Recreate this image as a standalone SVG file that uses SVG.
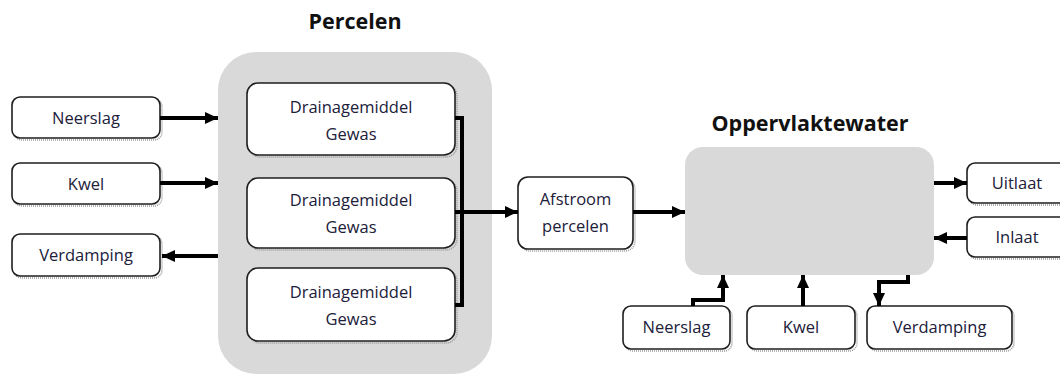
<svg xmlns="http://www.w3.org/2000/svg" width="1060" height="374" viewBox="0 0 1060 374">
<defs>
<marker id="ah" markerUnits="userSpaceOnUse" markerWidth="14" markerHeight="14" refX="13" refY="7" orient="auto">
<path d="M0,1 L13,7 L0,13 Z" fill="#000"/>
</marker>
</defs>
<style>
.bg{fill:#d9d9d9}
.sh{fill:none;stroke:#9a9a9a;stroke-width:1.5;stroke-dasharray:1 1}
.bx{fill:#fff;stroke:#1e1e1e;stroke-width:1.6}
.t{font-family:"Open Sans","Noto Sans",sans-serif;font-size:16.5px;fill:#20203a;text-anchor:middle}
.h{font-family:"Open Sans","Noto Sans",sans-serif;font-size:21.5px;font-weight:bold;fill:#111;text-anchor:middle}
.c{fill:none;stroke:#000;stroke-width:4}
.a{fill:none;stroke:#000;stroke-width:4;marker-end:url(#ah)}
</style>
<rect width="1060" height="374" fill="#fff"/>

<g id="percelen">
<rect class="bg" x="218" y="52" width="274" height="322" rx="38"/>
<text class="h" x="355" y="29">Percelen</text>
</g>
<g id="oppervlaktewater">
<rect class="bg" x="685" y="147" width="249" height="128" rx="18"/>
<text class="h" x="810" y="131">Oppervlaktewater</text>
</g>

<g id="drain1">
<rect class="sh" x="249" y="85" width="208" height="72" rx="11"/>
<rect class="bx" x="247" y="83" width="208" height="72" rx="11"/>
<text class="t" x="351" y="113">Drainagemiddel</text>
<text class="t" x="351" y="140">Gewas</text>
</g>
<g id="drain2">
<rect class="sh" x="249" y="180" width="208" height="70" rx="11"/>
<rect class="bx" x="247" y="178" width="208" height="70" rx="11"/>
<text class="t" x="351" y="206">Drainagemiddel</text>
<text class="t" x="351" y="233">Gewas</text>
</g>
<g id="drain3">
<rect class="sh" x="249" y="270" width="208" height="73" rx="11"/>
<rect class="bx" x="247" y="268" width="208" height="73" rx="11"/>
<text class="t" x="351" y="298">Drainagemiddel</text>
<text class="t" x="351" y="325">Gewas</text>
</g>

<g id="neerslag-l">
<rect class="sh" x="14" y="99" width="148" height="41" rx="8"/>
<rect class="bx" x="12" y="97" width="148" height="41" rx="8"/>
<text class="t" x="86" y="123.5">Neerslag</text>
</g>
<g id="kwel-l">
<rect class="sh" x="14" y="165" width="148" height="41" rx="8"/>
<rect class="bx" x="12" y="163" width="148" height="41" rx="8"/>
<text class="t" x="86" y="189.5">Kwel</text>
</g>
<g id="verdamping-l">
<rect class="sh" x="14" y="236" width="148" height="42" rx="8"/>
<rect class="bx" x="12" y="234" width="148" height="42" rx="8"/>
<text class="t" x="86" y="261">Verdamping</text>
</g>

<g id="afstroom">
<rect class="sh" x="520" y="179" width="115" height="72" rx="10"/>
<rect class="bx" x="518" y="177" width="115" height="72" rx="10"/>
<text class="t" x="575.5" y="205">Afstroom</text>
<text class="t" x="575.5" y="232">percelen</text>
</g>

<g id="uitlaat">
<rect class="sh" x="969" y="165" width="100" height="40" rx="8"/>
<rect class="bx" x="967" y="163" width="100" height="40" rx="8"/>
<text class="t" x="1017" y="189">Uitlaat</text>
</g>
<g id="inlaat">
<rect class="sh" x="969" y="219" width="100" height="40" rx="8"/>
<rect class="bx" x="967" y="217" width="100" height="40" rx="8"/>
<text class="t" x="1017" y="243">Inlaat</text>
</g>

<g id="neerslag-b">
<rect class="sh" x="625" y="308" width="107" height="43" rx="8"/>
<rect class="bx" x="623" y="306" width="107" height="43" rx="8"/>
<text class="t" x="676.5" y="333">Neerslag</text>
</g>
<g id="kwel-b">
<rect class="sh" x="749" y="308" width="108" height="43" rx="8"/>
<rect class="bx" x="747" y="306" width="108" height="43" rx="8"/>
<text class="t" x="801" y="333">Kwel</text>
</g>
<g id="verdamping-b">
<rect class="sh" x="869" y="308" width="145" height="43" rx="8"/>
<rect class="bx" x="867" y="306" width="145" height="43" rx="8"/>
<text class="t" x="939.5" y="333">Verdamping</text>
</g>

<g id="connectors">
<path class="a" d="M160,118 H218"/>
<path class="a" d="M160,183 H218"/>
<path class="a" d="M218,256 H162"/>
<path class="c" d="M455,118 H462 V305 H455 M455,212 H462"/>
<path class="a" d="M462,212 H518"/>
<path class="a" d="M633,212 H685"/>
<path class="a" d="M934,183 H967"/>
<path class="a" d="M967,238 H934"/>
<path class="a" d="M693,306 V300 H723 V275"/>
<path class="a" d="M803,306 V275"/>
<path class="a" d="M908,275 V282 H879 V306"/>
</g>
</svg>
